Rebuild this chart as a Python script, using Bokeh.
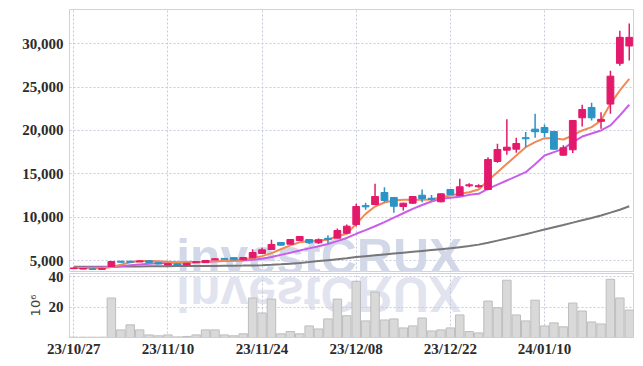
from bokeh.plotting import figure
from bokeh.models import ColumnDataSource, Range1d, FixedTicker, NumeralTickFormatter, Label, Div
from bokeh.layouts import column
from bokeh.embed import file_html
from bokeh.resources import INLINE

dates = ["23/10/27", "23/10/30", "23/10/31", "23/11/01", "23/11/02", "23/11/03", "23/11/06", "23/11/07",
         "23/11/08", "23/11/09", "23/11/10", "23/11/13", "23/11/14", "23/11/15", "23/11/16", "23/11/17",
         "23/11/20", "23/11/21", "23/11/22", "23/11/23", "23/11/24", "23/11/27", "23/11/28", "23/11/29",
         "23/11/30", "23/12/01", "23/12/04", "23/12/05", "23/12/06", "23/12/07", "23/12/08", "23/12/11",
         "23/12/12", "23/12/13", "23/12/14", "23/12/15", "23/12/18", "23/12/19", "23/12/20", "23/12/21",
         "23/12/22", "23/12/26", "23/12/27", "23/12/28", "24/01/02", "24/01/03", "24/01/04", "24/01/05",
         "24/01/08", "24/01/09", "24/01/10", "24/01/11", "24/01/12", "24/01/15", "24/01/16", "24/01/17",
         "24/01/18", "24/01/19", "24/01/22", "24/01/23"]

opens = [4060, 4010, 4040, 3980, 4310, 4920, 4920, 4830, 4960, 4750, 4480, 4620, 4480, 4740, 4750, 5090,
         5240, 5330, 5080, 5310, 5810, 6270, 7080, 6880, 7300, 7420, 7040, 7560, 7580, 8150, 9150, 11330,
         11460, 12840, 12270, 11230, 11610, 12530, 12180, 11770, 13190, 12500, 13610, 13510, 13190, 16420,
         17720, 17840, 19170, 20150, 20340, 19880, 17150, 17770, 21460, 22650, 21050, 23040, 27740, 29740]
highs = [4150, 4100, 4050, 4070, 4950, 4950, 4950, 5000, 4990, 4770, 4650, 4640, 4700, 4850, 5030, 5250,
         5260, 5350, 5360, 6300, 6460, 7390, 7100, 7450, 7800, 7450, 7550, 7900, 8690, 9150, 11540, 11650,
         13850, 13460, 12300, 11650, 12420, 13190, 12550, 12720, 13250, 14420, 13900, 13800, 16910, 18460,
         21300, 19150, 19810, 21920, 20690, 19900, 18300, 21190, 22960, 23190, 22110, 26880, 31500, 32340]
lows = [4050, 4000, 3970, 3970, 4280, 4800, 4800, 4850, 4760, 4580, 4460, 4450, 4460, 4750, 4730, 5080,
        5150, 5060, 5020, 5280, 5780, 6250, 6740, 6860, 7280, 6900, 6900, 6950, 7550, 8050, 8920, 10850,
        11400, 11730, 10500, 10770, 11550, 11730, 11850, 11720, 12550, 12450, 13450, 13400, 13100, 16270,
        17190, 17420, 18070, 19150, 19230, 17800, 17100, 17390, 20460, 21150, 20190, 21920, 27460, 28070]
closes = [4140, 4080, 3970, 4060, 4880, 4800, 4800, 4950, 4780, 4600, 4620, 4480, 4680, 4860, 5000, 5200,
          5130, 5080, 5350, 5920, 6230, 6850, 6770, 7420, 7770, 7040, 7390, 7440, 8460, 8960, 11230, 11190,
          12380, 11920, 11260, 11610, 12380, 12150, 12050, 12690, 12610, 13500, 13730, 13630, 16650, 17800,
          18070, 18490, 19040, 19850, 19760, 17840, 18000, 21150, 22420, 21460, 21280, 26260, 30740, 30740]

volumes = [0.2, 0.2, 0.2, 0.2, 25.9, 5.0, 8.3, 5.0, 1.7, 1.1, 1.7, 0.4, 0.7, 1.7, 5.0, 5.0, 1.7, 1.1, 2.4,
           25.9, 16.1, 25.2, 2.4, 3.9, 2.4, 7.6, 5.6, 12.2, 25.2, 14.3, 36.9, 10.9, 29.8, 11.5, 12.2, 6.3,
           7.6, 12.8, 4.3, 5.0, 6.3, 14.8, 3.9, 3.0, 23.9, 19.5, 37.6, 14.8, 10.9, 24.5, 7.6, 9.6, 7.0, 22.6,
           17.4, 10.2, 8.9, 38.2, 25.9, 18.0]

ma_short = [4150, 4130, 4100, 4100, 4250, 4500, 4800, 4950, 4950, 4900, 4850, 4800, 4780, 4800, 4850, 4900,
            4950, 5000, 5100, 5300, 5500, 5850, 6300, 6750, 7100, 7250, 7300, 7400, 7800, 8080, 9230, 10380,
            11230, 11690, 11920, 12000, 12000, 12000, 12040, 12300, 12500, 12690, 12880, 13190, 14230, 15190,
            16150, 17110, 18070, 18650, 19110, 19110, 18960, 19420, 20000, 20380, 21150, 23070, 24610, 25960]
ma_mid = [4150, 4160, 4180, 4200, 4250, 4350, 4450, 4550, 4620, 4680, 4720, 4760, 4800, 4830, 4860, 4900,
          4930, 4960, 5000, 5080, 5190, 5400, 5650, 5900, 6150, 6400, 6650, 6900, 7230, 7600, 8080, 8500,
          8950, 9420, 9950, 10450, 10960, 11400, 11800, 12110, 12250, 12350, 12570, 12690, 13270, 13750,
          14230, 14700, 15190, 16100, 17110, 17500, 17880, 18650, 19300, 19650, 20000, 20580, 21730, 22960]
ma_long = [4270, 4275, 4280, 4285, 4290, 4300, 4310, 4320, 4330, 4340, 4350, 4355, 4360, 4365, 4370, 4380,
           4390, 4400, 4410, 4430, 4450, 4500, 4560, 4630, 4720, 4820, 4930, 5040, 5150, 5260, 5400, 5500,
           5600, 5700, 5800, 5900, 6000, 6100, 6200, 6300, 6400, 6540, 6680, 6830, 7050, 7290, 7530, 7780,
           8030, 8300, 8570, 8840, 9100, 9370, 9640, 9910, 10190, 10520, 10860, 11250]

tick_idx = [0, 10, 20, 30, 40, 50]
price_ticks = [5000, 10000, 15000, 20000, 25000, 30000]
volume_ticks = [20, 40]

UP = "#e31a6b"
DOWN = "#2b93c6"
GRID = "#c6cadc"
FONT = "Liberation Sans Narrow"

n = len(dates)
xs = list(range(n))
up = [i for i in xs if closes[i] >= opens[i]]
dn = [i for i in xs if closes[i] < opens[i]]

def cds(ids):
    return ColumnDataSource(dict(
        x=ids,
        top=[max(opens[i], closes[i]) for i in ids],
        bottom=[min(opens[i], closes[i]) for i in ids],
        high=[highs[i] for i in ids],
        low=[lows[i] for i in ids],
    ))

src_up = cds(up)
src_dn = cds(dn)
ma_src = ColumnDataSource(dict(x=xs, s=ma_short, m=ma_mid, l=ma_long, v=volumes))

x_range = Range1d(-0.45, 59.45)

p = figure(width=640, height=272, x_range=x_range, y_range=Range1d(3616, 33950),
           output_backend="svg", toolbar_location=None, x_axis_location=None,
           min_border_left=69, min_border_right=7, min_border_top=9, min_border_bottom=0)
p.outline_line_color = "#d2d2d2"
p.xgrid.ticker = FixedTicker(ticks=tick_idx)
p.ygrid.ticker = FixedTicker(ticks=price_ticks)
for g in (p.xgrid, p.ygrid):
    g.grid_line_color = GRID
    g.grid_line_dash = "2 2"
p.yaxis.ticker = FixedTicker(ticks=price_ticks)
p.yaxis.formatter = NumeralTickFormatter(format="0,0")
p.yaxis.axis_line_color = None
p.yaxis.major_tick_line_color = None
p.yaxis.minor_tick_line_color = None
p.yaxis.major_tick_out = 0
p.yaxis.major_tick_in = 0
p.yaxis.major_label_standoff = 6
p.yaxis.major_label_text_font = FONT
p.yaxis.major_label_text_font_style = "bold"
p.yaxis.major_label_text_font_size = "15px"
p.yaxis.major_label_text_color = "#2b2b2b"

wm = Label(x=10.88, y=5400, text="investCRUX", text_font="Liberation Sans", text_font_style="bold",
           text_font_size="50px", text_color="#d3d8e9", text_baseline="alphabetic", level="underlay")
p.add_layout(wm)

p.line("x", "l", source=ma_src, line_color="#777777", line_width=2)
p.line("x", "m", source=ma_src, line_color="#c95ee8", line_width=2)
p.line("x", "s", source=ma_src, line_color="#f08a55", line_width=2)

for src, col in ((src_up, UP), (src_dn, DOWN)):
    p.segment("x", "high", "x", "low", source=src, line_color=col, line_width=1.5)
    p.vbar("x", 0.72, "top", "bottom", source=src, fill_color=col, line_color=col, line_width=1)

v = figure(width=640, height=101, x_range=x_range, y_range=Range1d(0, 42),
           output_backend="svg", toolbar_location=None,
           min_border_left=69, min_border_right=7, min_border_top=9, min_border_bottom=28)
v.margin = (-8, 0, 0, 0)
v.background_fill_color = None
v.border_fill_color = None
v.outline_line_color = "#d2d2d2"
v.vbar("x", 0.9, "v", 0, source=ma_src, fill_color="#d9d9d9", line_color="#bdbdbd", line_width=1)
v.xgrid.ticker = FixedTicker(ticks=tick_idx)
v.ygrid.ticker = FixedTicker(ticks=volume_ticks)
for g in (v.xgrid, v.ygrid):
    g.grid_line_color = GRID
    g.grid_line_dash = "2 2"
v.yaxis.ticker = FixedTicker(ticks=volume_ticks)
v.yaxis.axis_label = "10⁶"
v.yaxis.axis_label_text_font = "DejaVu Sans"
v.yaxis.axis_label_text_font_style = "normal"
v.yaxis.axis_label_text_font_size = "13px"
v.yaxis.axis_label_text_color = "#444444"
v.yaxis.axis_label_standoff = 3
v.xaxis.ticker = FixedTicker(ticks=tick_idx)
v.xaxis.major_label_overrides = {i: dates[i] for i in tick_idx}
for ax in (v.xaxis, v.yaxis):
    ax.axis_line_color = None
    ax.major_tick_line_color = None
    ax.minor_tick_line_color = None
    ax.major_tick_out = 0
    ax.major_tick_in = 0
    ax.major_label_text_font = FONT
    ax.major_label_text_font_style = "bold"
    ax.major_label_text_font_size = "15px"
    ax.major_label_text_color = "#2b2b2b"
v.yaxis.major_label_standoff = 6
v.xaxis.major_label_standoff = 3
v.xaxis.axis_line_color = "#cfcfcf"

refl = Div(text=('<div style="position:absolute;left:176px;top:-3px;transform:scaleY(-1);'
                 'font-family:\'Liberation Sans\';font-weight:bold;font-size:50px;line-height:50px;'
                 'color:rgba(200,206,226,0.55);white-space:nowrap;pointer-events:none;">investCRUX</div>'),
           width=640, height=0, margin=(0, 0, 0, 0),
           styles={"overflow": "visible", "position": "relative"})

layout = column(p, refl, v, spacing=0)
open("out.html", "w").write(file_html(layout, INLINE))
